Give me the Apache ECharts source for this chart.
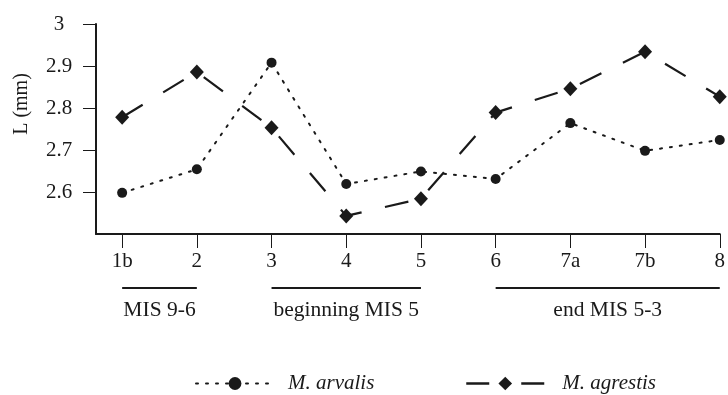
<!DOCTYPE html>
<html>
<head>
<meta charset="utf-8">
<script src="https://cdn.jsdelivr.net/npm/echarts@6/dist/echarts.min.js"></script>
<style>html,body{margin:0;padding:0;background:#fff}#c{width:728px;height:395px}</style>
</head>
<body>
<div id="c"></div>
<script>
const categories = ['1b', '2', '3', '4', '5', '6', '7a', '7b', '8'];
const arvalis = [2.598, 2.654, 2.908, 2.619, 2.649, 2.631, 2.764, 2.698, 2.724];
const agrestis = [2.778, 2.886, 2.753, 2.543, 2.584, 2.789, 2.846, 2.934, 2.827];
const yTickValues = [2.6, 2.7, 2.8, 2.9, 3];
const groupLabels = ['MIS 9-6', 'beginning MIS 5', 'end MIS 5-3'];
const groupFrom = [0, 2, 5];
const groupTo = [1, 4, 8];

const FONT = '"Liberation Serif", "Times New Roman", serif';
const INK = '#1a1a1a';
const catIdx = categories.map((c, i) => i);

const chart = echarts.init(document.getElementById('c'));
const option = {
  animation: false,
  backgroundColor: '#fff',
  grid: { left: 96, right: 8, top: 24, bottom: 161, containLabel: false },
  xAxis: {
    type: 'value', min: -0.35, max: categories.length - 1,
    axisLine: { show: true, onZero: false, lineStyle: { color: INK, width: 2 } },
    axisTick: { show: true, customValues: catIdx, length: 14, lineStyle: { color: INK, width: 1 } },
    axisLabel: { customValues: catIdx, formatter: v => categories[Math.round(v)], margin: 17,
      fontFamily: FONT, fontSize: 21, color: INK },
    splitLine: { show: false }
  },
  yAxis: {
    type: 'value', min: 2.5, max: 3,
    axisLine: { show: true, onZero: false, lineStyle: { color: INK, width: 2 } },
    axisTick: { show: true, customValues: yTickValues, length: 13, lineStyle: { color: INK, width: 1 } },
    axisLabel: { customValues: yTickValues, formatter: v => String(Math.round(v * 10) / 10),
      align: 'center', margin: 37, fontFamily: FONT, fontSize: 21, color: INK },
    splitLine: { show: false }
  },
  legend: [
    { data: ['M. arvalis'], left: 190, top: 368, itemWidth: 78, itemHeight: 16,
      lineStyle: { type: [2, 8], width: 2, color: INK },
      textStyle: { fontFamily: FONT, fontStyle: 'italic', fontSize: 21, color: INK, padding: [0, 0, 0, 9] } },
    { data: ['M. agrestis'], left: 460, top: 368, itemWidth: 78, itemHeight: 17,
      lineStyle: { type: [23, 32], width: 2.5, color: INK },
      textStyle: { fontFamily: FONT, fontStyle: 'italic', fontSize: 21, color: INK, padding: [0, 0, 0, 13] } }
  ],
  series: [
    { name: 'M. arvalis', type: 'line', data: arvalis.map((v, i) => [i, v]),
      symbol: 'circle', symbolSize: 10,
      lineStyle: { type: [2, 8], width: 2, color: INK, cap: 'round' },
      itemStyle: { color: INK } },
    { name: 'M. agrestis', type: 'line', data: agrestis.map((v, i) => [i, v]),
      symbol: 'diamond', symbolSize: [14, 15],
      lineStyle: { type: [24, 24], width: 2.2, color: INK },
      itemStyle: { color: INK } }
  ]
};
chart.setOption(option);

const graphics = [{
  type: 'text', x: 22, y: 104, rotation: Math.PI / 2,
  style: { text: 'L (mm)', fontFamily: FONT, fontSize: 20, fill: INK, align: 'center', verticalAlign: 'middle' }
}];
groupLabels.forEach((lab, k) => {
  const x1 = chart.convertToPixel({ xAxisIndex: 0 }, groupFrom[k]);
  const x2 = chart.convertToPixel({ xAxisIndex: 0 }, groupTo[k]);
  graphics.push({ type: 'line', shape: { x1: x1, y1: 288, x2: x2, y2: 288 }, style: { stroke: INK, lineWidth: 2 } });
  graphics.push({ type: 'text', x: (x1 + x2) / 2, y: 310,
    style: { text: lab, fontFamily: FONT, fontSize: 21.5, fill: INK, align: 'center', verticalAlign: 'middle' } });
});
chart.setOption({ graphic: graphics });
</script>
</body>
</html>
